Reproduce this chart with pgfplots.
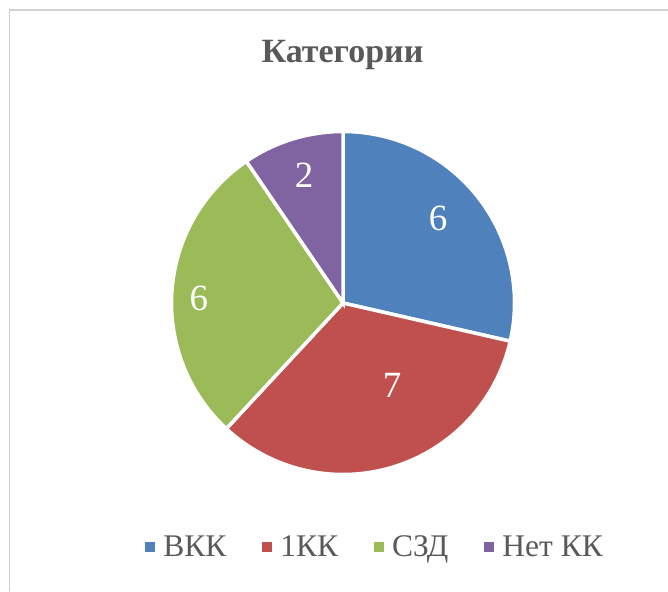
\documentclass[border=0pt]{standalone}
\usepackage{fontspec}
\setmainfont{Liberation Serif}
\newfontfamily\tnr{Liberation Serif}
\usepackage{pgfplots}
\usepackage{pgfplotstable}
\pgfplotsset{compat=1.18}
\definecolor{cB}{HTML}{4F81BD}
\definecolor{cR}{HTML}{C0504D}
\definecolor{cG}{HTML}{9BBB59}
\definecolor{cP}{HTML}{8064A2}
\definecolor{txt}{HTML}{595959}
\pgfplotstableread{
idx value
0 6
1 7
2 6
3 2
}\piedata
\begin{document}
\pgfplotstablegetelem{0}{value}\of\piedata\edef\vA{\pgfplotsretval}%
\pgfplotstablegetelem{1}{value}\of\piedata\edef\vB{\pgfplotsretval}%
\pgfplotstablegetelem{2}{value}\of\piedata\edef\vC{\pgfplotsretval}%
\pgfplotstablegetelem{3}{value}\of\piedata\edef\vD{\pgfplotsretval}%
\pgfmathsetmacro\tot{\vA+\vB+\vC+\vD}%
\pgfmathsetmacro\aA{90}%
\pgfmathsetmacro\aB{\aA-360*\vA/\tot}%
\pgfmathsetmacro\aC{\aB-360*\vB/\tot}%
\pgfmathsetmacro\aD{\aC-360*\vC/\tot}%
\pgfmathsetmacro\aE{\aD-360*\vD/\tot}%
\begin{tikzpicture}
\useasboundingbox (0,0) rectangle (668pt,591pt);
\draw[black!18, line width=1.5pt] (9.5pt,0pt) -- (9.5pt,581pt) -- (668pt,581pt);
\node[font=\tnr\fontsize{34}{39}\selectfont\bfseries, text=txt] at (342.5pt,536pt) {Категории};
\begin{axis}[
  at={(171.5pt,116.5pt)}, anchor=south west,
  scale only axis, width=343pt, height=343pt,
  xmin=-1, xmax=1, ymin=-1, ymax=1,
  hide axis, clip=false,
  legend columns=4,
  legend style={at={(axis description cs:-0.077,-0.211)}, anchor=west,
    draw=none, fill=none, inner sep=0pt,
    font=\tnr\fontsize{31.5}{36}\selectfont, text=txt,
    nodes={inner sep=0pt},
    /tikz/every odd column/.append style={column sep=8pt},
    /tikz/every even column/.append style={column sep=36pt}},
  legend image code/.code={\fill[#1, draw=none] (0pt,-5pt) rectangle (10pt,5pt);},
]
\addplot[fill=cB, draw=white, line width=3.5pt, domain=\aB:\aA, samples=80] ({cos(x)},{sin(x)}) -- (axis cs:0,0) -- cycle;
\addlegendentry{ВКК}
\addplot[fill=cR, draw=white, line width=3.5pt, domain=\aC:\aB, samples=80] ({cos(x)},{sin(x)}) -- (axis cs:0,0) -- cycle;
\addlegendentry{1КК}
\addplot[fill=cG, draw=white, line width=3.5pt, domain=\aD:\aC, samples=80] ({cos(x)},{sin(x)}) -- (axis cs:0,0) -- cycle;
\addlegendentry{СЗД}
\addplot[fill=cP, draw=white, line width=3.5pt, domain=\aE:\aD, samples=40] ({cos(x)},{sin(x)}) -- (axis cs:0,0) -- cycle;
\addlegendentry{Нет КК}
\node[text=white, font=\tnr\fontsize{37}{42}\selectfont] at (axis cs:0.554,0.496) {\vA};
\node[text=white, font=\tnr\fontsize{37}{42}\selectfont] at (axis cs:0.286,-0.478) {\vB};
\node[text=white, font=\tnr\fontsize{37}{42}\selectfont] at (axis cs:-0.84,0.029) {\vC};
\node[text=white, font=\tnr\fontsize{37}{42}\selectfont] at (axis cs:-0.227,0.746) {\vD};
\end{axis}
\end{tikzpicture}
\end{document}
